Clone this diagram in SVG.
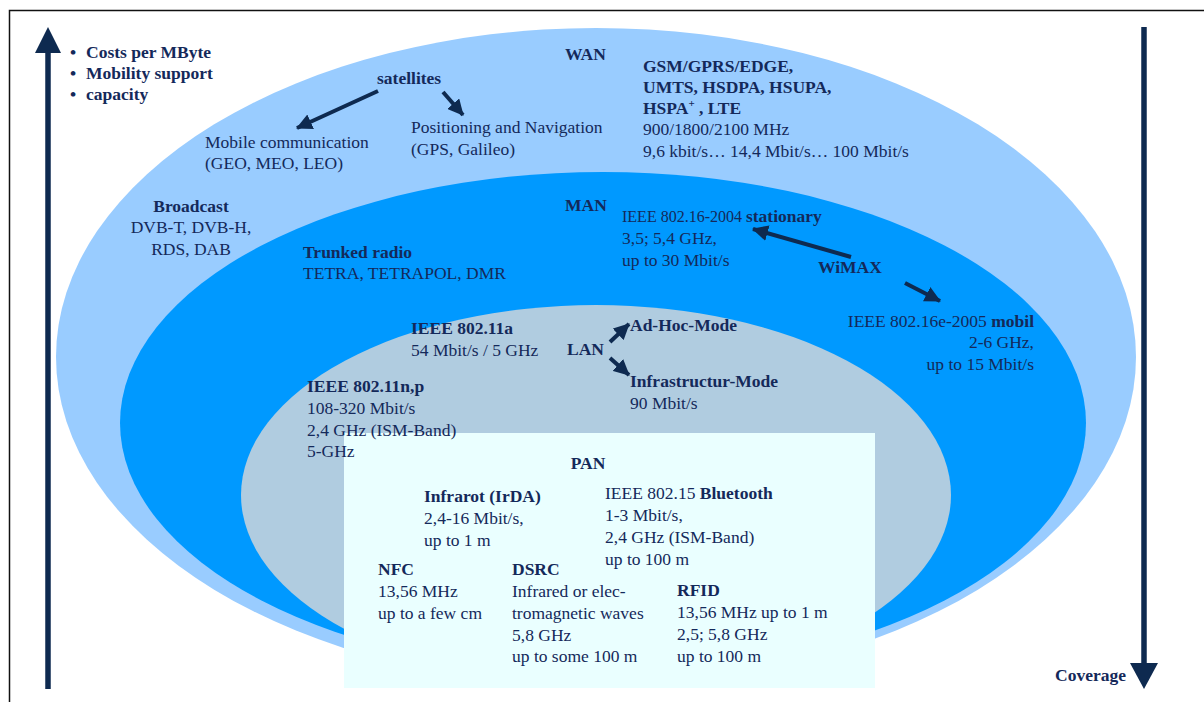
<svg xmlns="http://www.w3.org/2000/svg" width="1204" height="702" viewBox="0 0 1204 702">
<defs>
<style>
text{font-family:"Liberation Serif","Times New Roman",serif;font-size:17.5px;fill:#14295A}
.b{font-weight:bold}
.arr{stroke:#0E2A50;stroke-width:4;fill:none}
.axis{stroke:#0E2A50;stroke-width:5.5;fill:none}
</style>
<marker id="ah" markerUnits="userSpaceOnUse" markerWidth="18" markerHeight="16" refX="15" refY="8" orient="auto">
<path d="M0,0 L16,8 L0,16 Z" fill="#0E2A50"/>
</marker>
</defs>
<rect width="1204" height="702" fill="#FFFFFF"/>
<path d="M9.5,702 V10.5 H1204" stroke="#111" stroke-width="1.5" fill="none"/>
<g id="axes">
<line class="axis" x1="48" y1="50" x2="48" y2="689"/>
<path d="M35,53 L48,27 L61,53 Z" fill="#0E2A50"/>
<line class="axis" x1="1144" y1="27" x2="1144" y2="666"/>
<path d="M1130,663 L1144,689 L1158,663 Z" fill="#0E2A50"/>
</g>
<g id="legend">
<text class="b" x="70" y="58">•</text><text class="b" x="86" y="58">Costs per MByte</text>
<text class="b" x="70" y="79">•</text><text class="b" x="86" y="79">Mobility support</text>
<text class="b" x="70" y="100">•</text><text class="b" x="86" y="100">capacity</text>
<text class="b" x="1126" y="681" text-anchor="end">Coverage</text>
</g>
<g id="wan">
<ellipse cx="596" cy="357" rx="540" ry="329" fill="#99CCFF"/>
<text class="b" x="565" y="60">WAN</text>
<text class="b" x="377" y="84">satellites</text>
<text x="205" y="148">Mobile communication</text>
<text x="205" y="169">(GEO, MEO, LEO)</text>
<text x="411" y="133">Positioning and Navigation</text>
<text x="411" y="155">(GPS, Galileo)</text>
<text class="b" x="643" y="72">GSM/GPRS/EDGE,</text>
<text class="b" x="643" y="93">UMTS, HSDPA, HSUPA,</text>
<text class="b" x="643" y="114">HSPA<tspan font-size="11" dy="-7">+</tspan><tspan dy="7"> , LTE</tspan></text>
<text x="643" y="135">900/1800/2100 MHz</text>
<text x="643" y="157">9,6 kbit/s… 14,4 Mbit/s… 100 Mbit/s</text>
<text class="b" x="191" y="212" text-anchor="middle">Broadcast</text>
<text x="191" y="233" text-anchor="middle">DVB-T, DVB-H,</text>
<text x="191" y="255" text-anchor="middle">RDS, DAB</text>
</g>
<g id="man">
<ellipse cx="603" cy="423" rx="483" ry="251" fill="#0099FF"/>
<text class="b" x="565" y="211">MAN</text>
<text x="622" y="222"><tspan font-size="16">IEEE 802.16-2004 </tspan><tspan class="b">stationary</tspan></text>
<text x="622" y="244">3,5; 5,4 GHz,</text>
<text x="622" y="266">up to 30 Mbit/s</text>
<text class="b" x="303" y="258">Trunked radio</text>
<text x="303" y="279">TETRA, TETRAPOL, DMR</text>
<text class="b" x="818" y="273">WiMAX</text>
<text x="1034" y="327" text-anchor="end">IEEE 802.16e-2005 <tspan class="b">mobil</tspan></text>
<text x="1034" y="348" text-anchor="end">2-6 GHz,</text>
<text x="1034" y="370" text-anchor="end">up to 15 Mbit/s</text>
</g>
<g id="lan">
<ellipse cx="596" cy="495" rx="355" ry="190" fill="#B0CCE0"/>
</g>
<g id="pan">
<rect x="344" y="433" width="531" height="255" fill="#EAFFFF"/>
<text class="b" x="588" y="469" text-anchor="middle">PAN</text>
<text class="b" x="424" y="502">Infrarot (IrDA)</text>
<text x="424" y="524">2,4-16 Mbit/s,</text>
<text x="424" y="546">up to 1 m</text>
<text x="605" y="499">IEEE 802.15 <tspan class="b">Bluetooth</tspan></text>
<text x="605" y="521">1-3 Mbit/s,</text>
<text x="605" y="543">2,4 GHz (ISM-Band)</text>
<text x="605" y="565">up to 100 m</text>
<text class="b" x="378" y="575">NFC</text>
<text x="378" y="597">13,56 MHz</text>
<text x="378" y="619">up to a few cm</text>
<text class="b" x="512" y="575">DSRC</text>
<text x="512" y="597">Infrared or elec-</text>
<text x="512" y="619">tromagnetic waves</text>
<text x="512" y="641">5,8 GHz</text>
<text x="512" y="662">up to some 100 m</text>
<text class="b" x="677" y="596">RFID</text>
<text x="677" y="618">13,56 MHz up to 1 m</text>
<text x="677" y="640">2,5; 5,8 GHz</text>
<text x="677" y="662">up to 100 m</text>
</g>
<g id="lan-labels">
<text class="b" x="567" y="355">LAN</text>
<text class="b" x="411" y="334">IEEE 802.11a</text>
<text x="411" y="356">54 Mbit/s / 5 GHz</text>
<text class="b" x="630" y="331">Ad-Hoc-Mode</text>
<text class="b" x="630" y="387">Infrastructur-Mode</text>
<text x="630" y="409">90 Mbit/s</text>
<text class="b" x="307" y="392">IEEE 802.11n,p</text>
<text x="307" y="414">108-320 Mbit/s</text>
<text x="307" y="436">2,4 GHz (ISM-Band)</text>
<text x="307" y="457">5-GHz</text>
</g>
<g id="connectors">
<line class="arr" x1="378" y1="91" x2="297" y2="128" marker-end="url(#ah)"/>
<line class="arr" x1="443" y1="92" x2="463" y2="115" marker-end="url(#ah)"/>
<line class="arr" x1="851" y1="257" x2="753" y2="229" marker-end="url(#ah)"/>
<line class="arr" x1="905" y1="283" x2="940" y2="301" marker-end="url(#ah)"/>
<line class="arr" x1="610" y1="342" x2="629" y2="324" marker-end="url(#ah)"/>
<line class="arr" x1="610" y1="358" x2="629" y2="375" marker-end="url(#ah)"/>
</g>
</svg>
